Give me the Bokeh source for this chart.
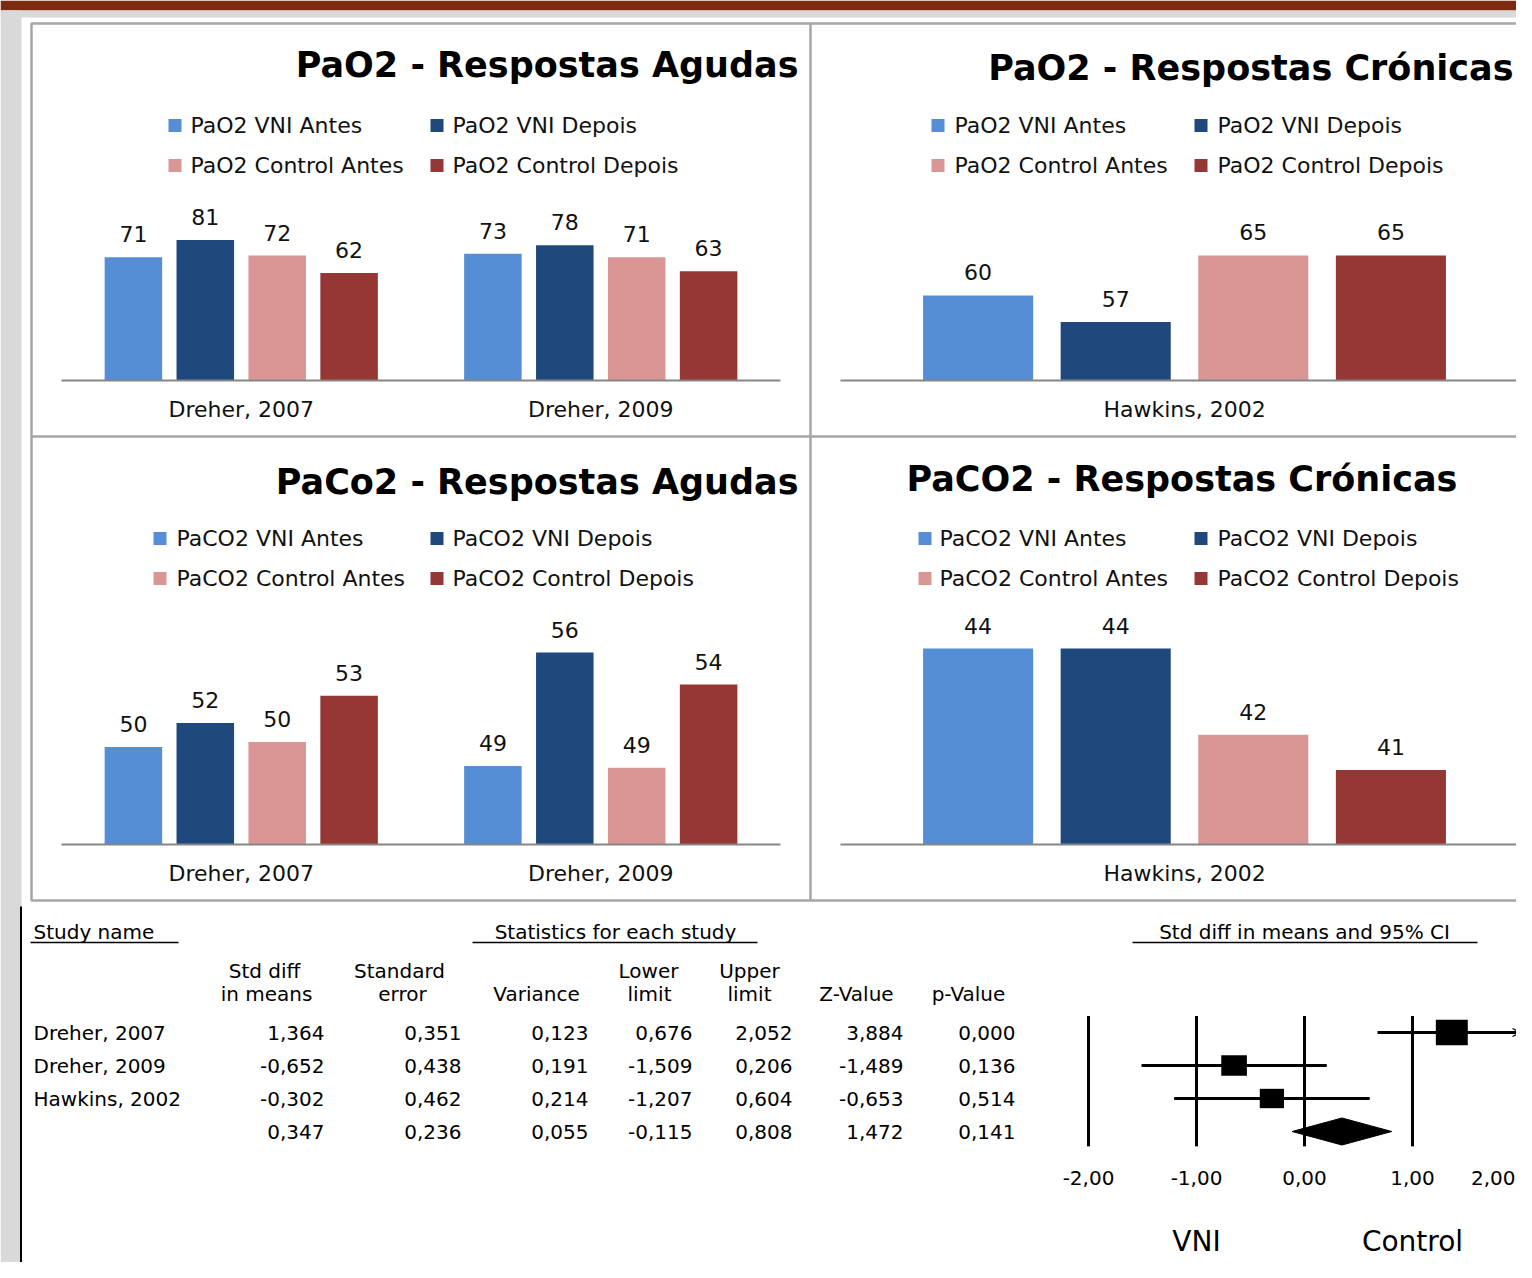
import math
from bokeh.plotting import figure
from bokeh.models import Range1d, Arrow, OpenHead
from bokeh.core.properties import value
from bokeh.embed import file_html
from bokeh.resources import INLINE

# ---------------- data ----------------
series_pao2 = ["PaO2 VNI Antes", "PaO2 VNI Depois", "PaO2 Control Antes", "PaO2 Control Depois"]
series_paco2 = ["PaCO2 VNI Antes", "PaCO2 VNI Depois", "PaCO2 Control Antes", "PaCO2 Control Depois"]
acute_studies = ["Dreher, 2007", "Dreher, 2009"]
chronic_studies = ["Hawkins, 2002"]

pao2_acute = [[71, 81, 72, 62], [73, 78, 71, 63]]
pao2_chronic = [[60.2, 57, 65, 65]]
paco2_acute = [[50.1, 51.6, 50.4, 53.3], [48.9, 56.0, 48.8, 54.0]]
paco2_chronic = [[44.0, 44.0, 41.8, 40.9]]

study_names = ["Dreher, 2007", "Dreher, 2009", "Hawkins, 2002", ""]
std_diff = [1.364, -0.652, -0.302, 0.347]
std_err = [0.351, 0.438, 0.462, 0.236]
variance = [0.123, 0.191, 0.214, 0.055]
lower = [0.676, -1.509, -1.207, -0.115]
upper = [2.052, 0.206, 0.604, 0.808]
z_value = [3.884, -1.489, -0.653, 1.472]
p_value = [0.000, 0.136, 0.514, 0.141]
forest_ticks = [-2, -1, 0, 1, 2]

bar_colors = ["#558ED5", "#1F497D", "#D99694", "#953735"]

# ---------------- canvas ----------------
W, H = 1516, 1262
X0, X1 = 0, W
Y0, Y1 = 0, H
p = figure(width=W, height=H, x_range=Range1d(X0, X1), y_range=Range1d(Y1, Y0),
           output_backend="svg", toolbar_location=None, min_border=0,
           x_axis_location=None, y_axis_location=None,
           background_fill_color="white", border_fill_color="white")
p.outline_line_color = None
p.xgrid.visible = False
p.ygrid.visible = False

CHART_FONT = value("DejaVu Sans")
TABLE_FONT = value("DejaVu Sans")
TXT = "#111111"
CS = "22px"


def xr(name, px_at0, ppu):
    p.extra_x_ranges[name] = Range1d((X0 - px_at0) / ppu, (X1 - px_at0) / ppu)


def yr_up(name, v_at, px_at, ppu):
    p.extra_y_ranges[name] = Range1d(v_at + (px_at - Y1) / ppu, v_at + (px_at - Y0) / ppu)


# background decoration
p.quad(left=[0], right=[1540], top=[0], bottom=[10], fill_color="#7B2C10", line_color=None)
p.quad(left=[0], right=[1540], top=[10], bottom=[17], fill_color="#D9D9D9", line_color=None)
p.quad(left=[0], right=[21], top=[10], bottom=[1280], fill_color="#D9D9D9", line_color=None)

# panel frames
p.quad(left=[31], right=[1545], top=[23], bottom=[900], fill_color=None,
       line_color="#A6A6A6", line_width=2.5)
p.segment(x0=[810, 31], y0=[23, 436], x1=[810, 1545], y1=[900, 436],
          line_color="#A6A6A6", line_width=2.5)

panels = [
    dict(title="PaO2 - Respostas Agudas", series=series_pao2, cats=acute_studies, vals=pao2_acute,
         left=61, right=780, base=380, vmin=0, ppu=1.735,
         tx=798, ty=64, talign="right", sq=[168, 430], ltx=[190, 452], ly=[125, 165]),
    dict(title="PaO2 - Respostas Crónicas", series=series_pao2, cats=chronic_studies, vals=pao2_chronic,
         left=840, right=1528, base=380, vmin=50, ppu=8.34,
         tx=1513, ty=67, talign="right", sq=[931, 1194], ltx=[954, 1217], ly=[125, 165]),
    dict(title="PaCo2 - Respostas Agudas", series=series_paco2, cats=acute_studies, vals=paco2_acute,
         left=61, right=780, base=844, vmin=44, ppu=16.0,
         tx=798, ty=481, talign="right", sq=[153, 430], ltx=[176, 452], ly=[538, 578]),
    dict(title="PaCO2 - Respostas Crónicas", series=series_paco2, cats=chronic_studies, vals=paco2_chronic,
         left=840, right=1528, base=844, vmin=39, ppu=39.2,
         tx=906, ty=478, talign="left", sq=[918, 1194], ltx=[939, 1217], ly=[538, 578]),
]

for k, P in enumerate(panels):
    xn, yn = f"x{k}", f"y{k}"
    ncat = len(P["cats"])
    xr(xn, P["left"], (P["right"] - P["left"]) / ncat)
    yr_up(yn, P["vmin"], P["base"], P["ppu"])
    xs, tops, cols, labels = [], [], [], []
    for i, row in enumerate(P["vals"]):
        for s, v in enumerate(row):
            xs.append(i + 0.5 + (s - 1.5) * 0.2)
            tops.append(v)
            cols.append(bar_colors[s])
            labels.append(f"{v:.0f}")
    p.vbar(x=xs, width=0.16, top=tops, bottom=P["vmin"], fill_color=cols, line_color=None,
           x_range_name=xn, y_range_name=yn)
    p.text(x=xs, y=tops, text=labels, x_range_name=xn, y_range_name=yn, y_offset=-23,
           text_align="center", text_baseline="middle", text_font=CHART_FONT,
           text_font_size=CS, text_color=TXT)
    p.segment(x0=[0], x1=[ncat], y0=[P["vmin"]], y1=[P["vmin"]], x_range_name=xn, y_range_name=yn,
              line_color="#868686", line_width=2)
    p.text(x=[i + 0.5 for i in range(ncat)], y=[P["base"] + 29] * ncat, text=P["cats"],
           x_range_name=xn, text_align="center", text_baseline="middle", text_font=CHART_FONT,
           text_font_size=CS, text_color=TXT)
    # title
    p.text(x=[P["tx"]], y=[P["ty"]], text=[P["title"]], text_align=P["talign"],
           text_baseline="middle", text_font=CHART_FONT, text_font_style="bold",
           text_font_size="35px", text_color="#000000")
    # legend
    lx, ly, ltx, lt = [], [], [], []
    for j, name in enumerate(P["series"]):
        c, r = j % 2, j // 2
        lx.append(P["sq"][c] + 6.5)
        ly.append(P["ly"][r])
        ltx.append(P["ltx"][c])
        lt.append(name)
    p.rect(x=lx, y=ly, width=13, height=13, width_units="screen", height_units="screen",
           fill_color=bar_colors, line_color=None)
    p.text(x=ltx, y=ly, text=lt, text_align="left", text_baseline="middle", text_font=CHART_FONT,
           text_font_size=CS, text_color=TXT)

# ---------------- table ----------------
p.segment(x0=[20.5], x1=[20.5], y0=[906], y1=[1290], line_color="#000000", line_width=2)

# row range: row i at pixel 1032 + 33 i
p.extra_y_ranges["fy"] = Range1d((Y1 - 1032) / 33.0, (Y0 - 1032) / 33.0)
rows = list(range(len(study_names)))

TS = "20px"
p.text(x=[33], y=[931], text=["Study name"], text_align="left", text_baseline="middle",
       text_font=TABLE_FONT, text_font_size=TS, text_color="#000000")
p.text(x=[615], y=[931], text=["Statistics for each study"], text_align="center",
       text_baseline="middle", text_font=TABLE_FONT, text_font_size=TS, text_color="#000000")
p.text(x=[1304], y=[931], text=["Std diff in means and 95% CI"], text_align="center",
       text_baseline="middle", text_font=TABLE_FONT, text_font_size=TS, text_color="#000000")
p.segment(x0=[30, 472, 1132], x1=[178, 757, 1477], y0=[942] * 3, y1=[942] * 3,
          line_color="#000000", line_width=1.5)

hdr1 = [("Std diff", 264), ("Standard", 399), ("Lower", 648), ("Upper", 749)]
hdr2 = [("in means", 266), ("error", 402), ("Variance", 536), ("limit", 649), ("limit", 749),
        ("Z-Value", 856), ("p-Value", 968)]
p.text(x=[h[1] for h in hdr1], y=[970] * len(hdr1), text=[h[0] for h in hdr1], text_align="center",
       text_baseline="middle", text_font=TABLE_FONT, text_font_size=TS, text_color="#000000")
p.text(x=[h[1] for h in hdr2], y=[993] * len(hdr2), text=[h[0] for h in hdr2], text_align="center",
       text_baseline="middle", text_font=TABLE_FONT, text_font_size=TS, text_color="#000000")

p.text(x=[33] * len(rows), y=rows, y_range_name="fy", text=study_names, text_align="left",
       text_baseline="middle", text_font=TABLE_FONT, text_font_size=TS, text_color="#000000")


def fmt(v):
    return f"{v:.3f}".replace(".", ",")


col_right = [324, 461, 588, 692, 792, 903, 1015]
for xr_px, col in zip(col_right, [std_diff, std_err, variance, lower, upper, z_value, p_value]):
    p.text(x=[xr_px] * len(col), y=rows, y_range_name="fy", text=[fmt(v) for v in col],
           text_align="right", text_baseline="middle", text_font=TABLE_FONT, text_font_size=TS,
           text_color="#000000")

# ---------------- forest plot ----------------
p.extra_x_ranges["fx"] = Range1d((X0 - 1304) / 108.0, (X1 - 1304) / 108.0)
xmax = max(forest_ticks)
xmin = min(forest_ticks)
nst = len(study_names) - 1

p.segment(x0=forest_ticks, x1=forest_ticks, y0=[-0.5] * 5, y1=[nst - 1 + 1.45] * 5,
          x_range_name="fx", y_range_name="fy", line_color="#000000", line_width=3)

ci_lo = [max(l, xmin) for l in lower[:nst]]
ci_hi = [min(u, xmax) for u in upper[:nst]]
p.segment(x0=ci_lo, x1=ci_hi, y0=rows[:nst], y1=rows[:nst], x_range_name="fx",
          y_range_name="fy", line_color="#000000", line_width=3)
for i in range(nst):
    if upper[i] > xmax:
        p.add_layout(Arrow(end=OpenHead(size=8, line_width=1.2, line_color="#000000"),
                           x_start=xmax - 0.05, y_start=i, x_end=xmax, y_end=i,
                           line_color="#000000", line_width=1,
                           x_range_name="fx", y_range_name="fy"))

box_w = [11.2 * math.sqrt(1.0 / v) for v in variance[:nst]]
box_h = [0.8 * w for w in box_w]
p.rect(x=std_diff[:nst], y=rows[:nst], width=box_w, height=box_h, width_units="screen",
       height_units="screen", x_range_name="fx", y_range_name="fy",
       fill_color="#000000", line_color=None)

r_sum = nst
p.patch(x=[lower[r_sum], std_diff[r_sum], upper[r_sum], std_diff[r_sum]],
        y=[r_sum, r_sum - 0.41, r_sum, r_sum + 0.41], x_range_name="fx", y_range_name="fy",
        fill_color="#000000", line_color="#000000")

tick_txt = [f"{t:.2f}".replace(".", ",") for t in forest_ticks]
p.text(x=forest_ticks[:-1], y=[1177] * (len(forest_ticks) - 1), x_range_name="fx",
       text=tick_txt[:-1], text_align="center",
       text_baseline="middle", text_font=TABLE_FONT, text_font_size=TS, text_color="#000000")
# last tick label sits at the right edge: keep it fully visible
p.text(x=forest_ticks[-1:], y=[1177], x_range_name="fx", x_offset=-5,
       text=tick_txt[-1:], text_align="right",
       text_baseline="middle", text_font=TABLE_FONT, text_font_size=TS, text_color="#000000")
p.text(x=[-1, 1], y=[1241, 1241], x_range_name="fx", text=["VNI", "Control"], text_align="center",
       text_baseline="middle", text_font=TABLE_FONT, text_font_size="28px", text_color="#000000")

open("out.html", "w").write(file_html(p, INLINE))
